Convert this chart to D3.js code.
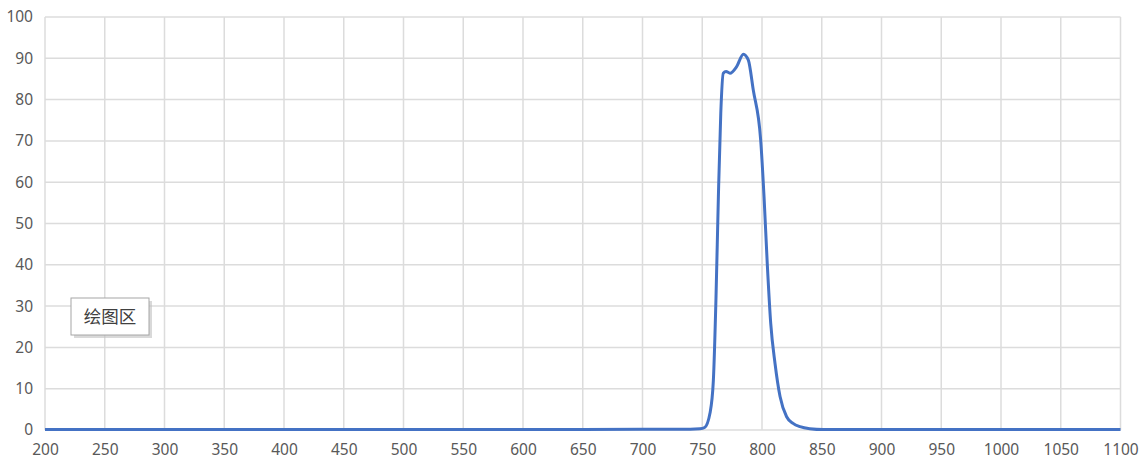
<!DOCTYPE html>
<html><head><meta charset="utf-8">
<script src="https://cdn.jsdelivr.net/npm/d3@7"></script>
<style>body{margin:0;background:#fff;}svg{display:block;}</style>
</head><body>
<svg id="c" width="1142" height="468"></svg>
<script>
const wavelength = [200, 300, 400, 500, 600, 700, 740, 748, 752, 756.5, 759.3, 761.5, 763.5, 765.5, 767.6, 769.9, 773.2, 778.8, 784.4, 788.5, 792.7, 798.9, 801.7, 804.4, 807.3, 810.9, 815.1, 820.6, 826, 831.8, 840, 851.3, 870, 900, 1000, 1100];
const transmittance = [0.1, 0.1, 0.1, 0.1, 0.1, 0.2, 0.2, 0.3, 0.6, 4.1, 12, 32, 56.5, 76.7, 86.4, 86.8, 86.4, 88, 91, 89.6, 82.3, 70.2, 56.5, 40.3, 25.8, 16.1, 8.1, 3.2, 1.6, 0.8, 0.3, 0.1, 0.1, 0.1, 0.1, 0.1];
const xTicks = [200,250,300,350,400,450,500,550,600,650,700,750,800,850,900,950,1000,1050,1100];
const yTicks = [0,10,20,30,40,50,60,70,80,90,100];
const labelText = "绘图区";

const svg = d3.select("#c");
const L = 45, R = 1120.5, T = 17, B = 430;
const x = d3.scaleLinear().domain([200,1100]).range([L,R]);
const y = d3.scaleLinear().domain([0,100]).range([B,T]);
const font = "'Noto Sans','Liberation Sans',sans-serif";

// gridlines
svg.append("g").selectAll("line").data(xTicks).join("line")
  .attr("x1", d=>x(d)).attr("x2", d=>x(d)).attr("y1", T).attr("y2", B)
  .attr("stroke", "#dcdcdc").attr("stroke-width", 1.5);
svg.append("g").selectAll("line").data(yTicks).join("line")
  .attr("x1", L).attr("x2", R).attr("y1", d=>y(d)).attr("y2", d=>y(d))
  .attr("stroke", "#dcdcdc").attr("stroke-width", 1.5);

// axes labels
const xa = svg.append("g").attr("transform", `translate(0,${B})`)
  .call(d3.axisBottom(x).tickValues(xTicks).tickSize(0).tickPadding(14).tickFormat(d3.format("d")));
xa.select(".domain").remove();
xa.selectAll("text").attr("font-family", font).attr("font-size", 15.5).attr("fill", "#595959");
const ya = svg.append("g").attr("transform", `translate(${L},0)`)
  .call(d3.axisLeft(y).tickValues(yTicks).tickSize(0).tickPadding(12).tickFormat(d3.format("d")));
ya.select(".domain").remove();
ya.selectAll("text").attr("font-family", font).attr("font-size", 15.5).attr("fill", "#595959");

// line
const line = d3.line().x((d,i)=>x(wavelength[i])).y(d=>y(d)).curve(d3.curveMonotoneX);
svg.append("path").datum(transmittance).attr("d", line)
  .attr("fill", "none").attr("stroke", "#4472C4").attr("stroke-width", 3)
  .attr("stroke-linejoin", "round");

// label box
const bx = 71, by = 298, bw = 78, bh = 37;
svg.append("rect").attr("x", bx+3).attr("y", by+3).attr("width", bw).attr("height", bh).attr("fill", "#bfbfbf").attr("opacity", 0.6);
svg.append("rect").attr("x", bx).attr("y", by).attr("width", bw).attr("height", bh)
  .attr("fill", "#fff").attr("stroke", "#a6a6a6").attr("stroke-width", 1);
svg.append("text").attr("x", bx + bw/2).attr("y", by + bh/2 + 6).attr("text-anchor", "middle")
  .attr("font-family", "'Noto Sans CJK SC',sans-serif").attr("font-size", 17.5).attr("fill", "#404040").text(labelText);
</script>
</body></html>
